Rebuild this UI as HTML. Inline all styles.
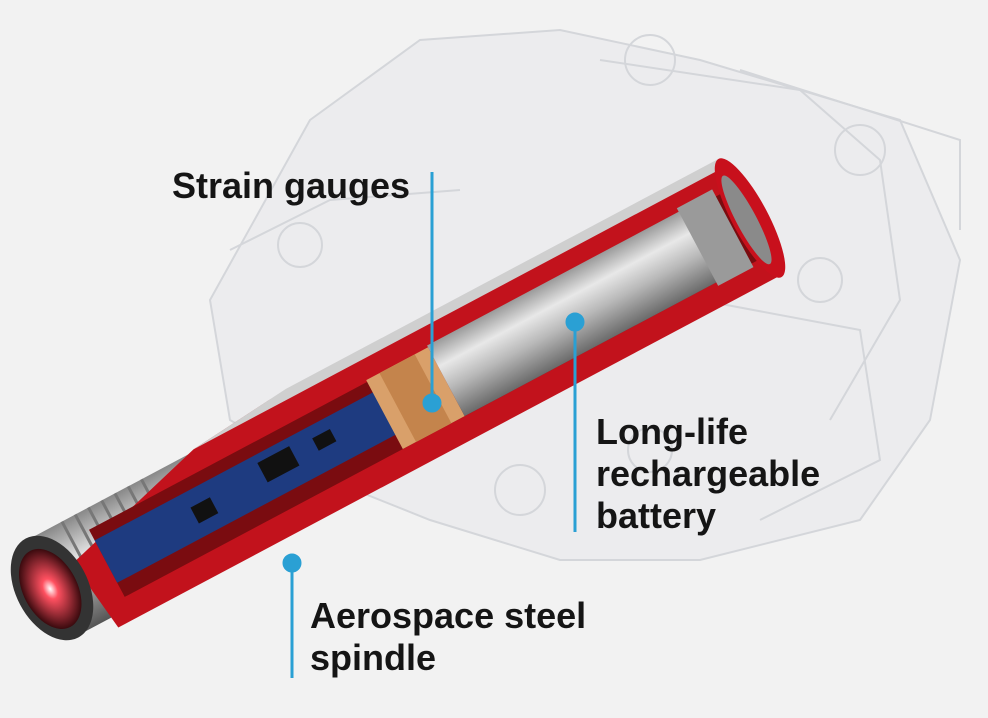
<!DOCTYPE html>
<html><head><meta charset="utf-8"><style>
html,body{margin:0;padding:0;background:#f2f2f2;}
.wrap{position:relative;width:988px;height:718px;overflow:hidden;background:#f2f2f2;}
.t{position:absolute;font-family:"Liberation Sans",sans-serif;font-weight:bold;font-size:36px;color:#151515;line-height:42px;letter-spacing:0px;}
</style></head><body><div class="wrap">
<svg width="988" height="718" viewBox="0 0 988 718" style="position:absolute;left:0;top:0">
<defs>
<linearGradient id="bat" x1="0" y1="0" x2="0" y2="1">
<stop offset="0" stop-color="#9a9a9a"/><stop offset="0.3" stop-color="#e8e8e8"/><stop offset="0.6" stop-color="#b8b8b8"/><stop offset="1" stop-color="#6a6a6a"/></linearGradient>
<linearGradient id="thr" x1="0" y1="0" x2="0" y2="1">
<stop offset="0" stop-color="#888"/><stop offset="0.35" stop-color="#e0e0e0"/><stop offset="1" stop-color="#555"/></linearGradient>
<radialGradient id="glow"><stop offset="0" stop-color="#fff"/><stop offset="0.25" stop-color="#ff5060"/><stop offset="1" stop-color="#3a0a0e"/></radialGradient>
</defs>
<g fill="none" stroke="#d4d6da" stroke-width="2">
<path d="M310 120 L420 40 L560 30 L700 60 L900 120 L960 260 L930 420 L860 520 L700 560 L560 560 L430 520 L330 480 L230 420 L210 300 Z" fill="#ececee"/>
<path d="M600 60 L800 90 L880 160 L900 300 L830 420"/>
<path d="M230 250 L330 200 L460 190"/>
<circle cx="650" cy="60" r="25"/><circle cx="860" cy="150" r="25"/><circle cx="300" cy="245" r="22"/><circle cx="820" cy="280" r="22"/>
<circle cx="520" cy="490" r="25"/><circle cx="650" cy="450" r="22"/>
<path d="M700 300 L860 330 L880 460 L760 520"/>
<path d="M740 70 L960 140 L960 230"/>
</g>
<g transform="translate(52,588) rotate(-28)">
<rect x="0" y="-54" width="190" height="108" fill="url(#thr)"/>
<g stroke="#777" stroke-width="3">
<line x1="40" y1="-54" x2="40" y2="54"/><line x1="55" y1="-54" x2="55" y2="54"/><line x1="70" y1="-54" x2="70" y2="54"/><line x1="85" y1="-54" x2="85" y2="54"/><line x1="100" y1="-54" x2="100" y2="54"/><line x1="115" y1="-54" x2="115" y2="54"/><line x1="130" y1="-54" x2="130" y2="54"/></g>
<path d="M30 -12 L190 -56 L280 -64 L790 -64 L790 66 L40 66 Z" fill="#c2121c"/>
<path d="M190 -56 L300 -66 L790 -66 L790 -56 L300 -56 Z" fill="#cfcfcf"/>
<rect x="60" y="-34" width="720" height="76" fill="#7a0c10"/>
<rect x="60" y="-22" width="320" height="48" fill="#1e3b80"/>
<g fill="#111"><rect x="240" y="-14" width="36" height="22"/><rect x="160" y="-6" width="22" height="18"/><rect x="300" y="-10" width="20" height="14"/></g>
<rect x="375" y="-36" width="70" height="78" fill="#d9a06a"/>
<rect x="390" y="-36" width="40" height="78" fill="#c4844c"/>
<rect x="445" y="-38" width="320" height="80" fill="url(#bat)"/>
<rect x="730" y="-42" width="40" height="88" fill="#9a9a9a"/>
<ellipse cx="790" cy="1" rx="18" ry="67" fill="#c8101c"/>
<ellipse cx="786" cy="1" rx="10" ry="50" fill="#8a8a8a"/>
<ellipse cx="0" cy="0" rx="36" ry="56" fill="#333"/>
<ellipse cx="-2" cy="0" rx="27" ry="43" fill="url(#glow)"/>
</g>
<g stroke="#2aa0d4" stroke-width="3" fill="#2aa0d4">
<line x1="432" y1="172" x2="432" y2="402"/><circle cx="432" cy="403" r="8"/>
<line x1="575" y1="322" x2="575" y2="532"/><circle cx="575" cy="322" r="8"/>
<line x1="292" y1="563" x2="292" y2="678"/><circle cx="292" cy="563" r="8"/>
</g>
</svg>
<div class="t" style="left:172px;top:165px">Strain gauges</div>
<div class="t" style="left:596px;top:411px">Long-life<br>rechargeable<br>battery</div>
<div class="t" style="left:310px;top:595px">Aerospace steel<br>spindle</div>
</div></body></html>
